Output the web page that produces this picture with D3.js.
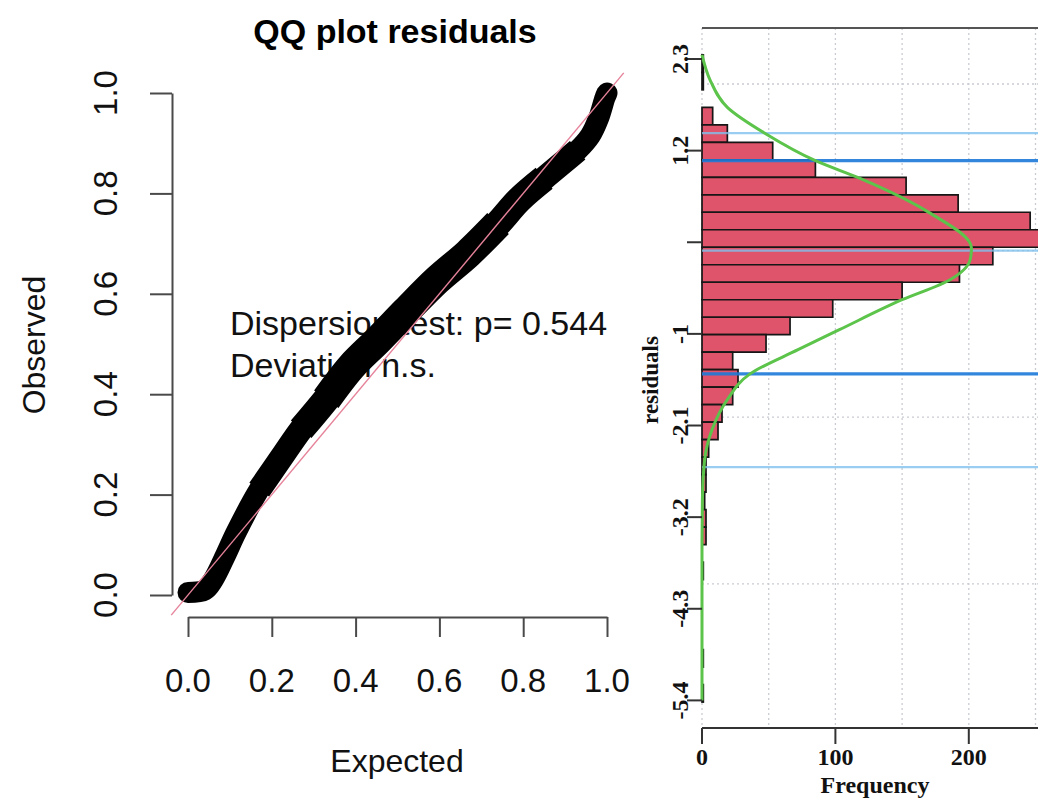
<!DOCTYPE html>
<html>
<head>
<meta charset="utf-8">
<script src="https://cdn.jsdelivr.net/npm/d3@7"></script>
<style>
  html, body { margin: 0; padding: 0; background: #fff; }
  svg { display: block; }
</style>
</head>
<body>
<svg id="chart" width="1038" height="801"></svg>
<script>
// ---------- QQ plot of scaled residuals ----------
const qqExpected = [0.00, 0.04, 0.06, 0.09, 0.115, 0.17, 0.224, 0.27, 0.33, 0.39, 0.454, 0.52, 0.594, 0.668, 0.74, 0.79, 0.85, 0.90, 0.93, 0.96, 0.98, 0.995, 1.00];
const qqObserved = [0.005, 0.01, 0.03, 0.08, 0.125, 0.21, 0.275, 0.33, 0.39, 0.455, 0.508, 0.565, 0.627, 0.68, 0.74, 0.787, 0.83, 0.865, 0.886, 0.915, 0.95, 0.99, 1.00];
const qqTicks = [0, 0.2, 0.4, 0.6, 0.8, 1.0];
const qqTitle = "QQ plot residuals";
const testLines = ["Dispersion test: p= 0.544", "Deviation n.s."];

// ---------- Histogram of residuals ----------
const binEdges = [2.35, 2.14, 1.93, 1.72, 1.51, 1.30, 1.09, 0.88, 0.67, 0.46, 0.25, 0.04,
  -0.17, -0.38, -0.59, -0.80, -1.01, -1.22, -1.43, -1.64, -1.85, -2.06, -2.27, -2.48,
  -2.69, -2.90, -3.11, -3.32, -3.53, -3.74, -3.95, -4.16, -4.37, -4.58, -4.79, -5.00, -5.21, -5.42];
const binCounts = [1, 1, 0, 8, 19, 53, 85, 153, 192, 246, 265, 218, 193, 150, 98, 66, 48, 23, 27, 23,
  15, 12, 5, 3, 3, 2, 3, 3, 0, 1, 0, 0, 0, 0, 1, 0, 1];
const residTicks = [2.3, 1.2, 0.1, -1, -2.1, -3.2, -4.3, -5.4];
const residTickLabels = ["2.3", "1.2", "", "-1", "-2.1", "-3.2", "-4.3", "-5.4"];
const freqTicks = [0, 100, 200];
const freqGrid = [0, 50, 100, 150, 200, 250];
const residGrid = [2, 0, -2, -4];
// reference levels drawn across the histogram
const refLevels = [1.41, 1.08, 0.0, -1.48, -2.60];
const refKinds = ["outer", "inner", "center", "inner", "outer"];
// fitted density curve (in frequency units)
const densResid = [2.35, 2.05, 1.72, 1.41, 1.08, 0.87, 0.45, 0.03, -0.11, -0.35, -0.59, -0.95, -1.19, -1.48, -1.79, -2.15, -2.51, -2.99, -3.5, -5.4];
const densFreq  = [0, 6, 19, 47, 85, 118, 171, 202, 201, 186, 150, 103, 72, 36, 19, 7.5, 2, 0.3, 0, 0];

const SANS = "'Liberation Sans', Arial, Helvetica, sans-serif";
const SERIF = "'Liberation Serif', 'Times New Roman', serif";

const svg = d3.select("#chart");

// ================= Left panel =================
const xQ = d3.scaleLinear().domain([0, 1]).range([188, 607]);
const yQ = d3.scaleLinear().domain([0, 1]).range([595, 93]);
const left = svg.append("g");

left.append("text")
  .attr("x", 395).attr("y", 43)
  .attr("text-anchor", "middle")
  .attr("font-family", SANS).attr("font-weight", "bold").attr("font-size", 34)
  .text(qqTitle);

// axes (line + ticks), labels drawn separately
const axX = left.append("g").attr("transform", "translate(0,617)")
  .call(d3.axisBottom(xQ).tickValues(qqTicks).tickSize(20).tickSizeOuter(0).tickFormat(""));
const axY = left.append("g").attr("transform", "translate(172,0)")
  .call(d3.axisLeft(yQ).tickValues(qqTicks).tickSize(22).tickSizeOuter(0).tickFormat(""));
[axX, axY].forEach(a => {
  a.selectAll("path, line").attr("stroke", "#4a4a4a").attr("stroke-width", 2);
});

left.selectAll("text.xt").data(qqTicks).join("text")
  .attr("class", "xt")
  .attr("x", d => xQ(d)).attr("y", 692)
  .attr("text-anchor", "middle")
  .attr("font-family", SANS).attr("font-size", 33).attr("fill", "#111")
  .text(d => d3.format(".1f")(d));

left.selectAll("text.yt").data(qqTicks).join("text")
  .attr("class", "yt")
  .attr("transform", d => `translate(117,${yQ(d)}) rotate(-90)`)
  .attr("text-anchor", "middle")
  .attr("font-family", SANS).attr("font-size", 33).attr("fill", "#111")
  .text(d => d3.format(".1f")(d));

left.append("text")
  .attr("x", 397).attr("y", 772)
  .attr("text-anchor", "middle")
  .attr("font-family", SANS).attr("font-size", 32).attr("fill", "#111")
  .text("Expected");

left.append("text")
  .attr("transform", `translate(45,345) rotate(-90)`)
  .attr("text-anchor", "middle")
  .attr("font-family", SANS).attr("font-size", 32).attr("fill", "#111")
  .text("Observed");

// test annotations (drawn beneath the points)
left.selectAll("text.ann").data(testLines).join("text")
  .attr("class", "ann")
  .attr("x", 230).attr("y", (d, i) => 335 + i * 42)
  .attr("font-family", SANS).attr("font-size", 34).attr("fill", "#111")
  .text(d => d);

// dense band of residual quantiles; the central stretch of the cloud is wider
const qqPts = qqExpected.map((e, i) => [e, qqObserved[i]]);
const qqLine = d3.line().x(d => xQ(d[0])).y(d => yQ(d[1])).curve(d3.curveCatmullRom);
const bandLayers = [
  { lo: 0.00, hi: 1.00, w: 21, cap: "round" },
  { lo: 0.17, hi: 0.93, w: 24, cap: "butt" },
  { lo: 0.27, hi: 0.85, w: 27, cap: "butt" },
  { lo: 0.33, hi: 0.74, w: 30, cap: "butt" }
];
bandLayers.forEach(l => {
  left.append("path")
    .attr("d", qqLine(qqPts.filter(p => p[0] >= l.lo && p[0] <= l.hi)))
    .attr("fill", "none").attr("stroke", "#000")
    .attr("stroke-width", l.w).attr("stroke-linecap", l.cap).attr("stroke-linejoin", "round");
});

// 1:1 reference line across the plotting region
left.append("line")
  .attr("x1", xQ(-0.04)).attr("y1", yQ(-0.04))
  .attr("x2", xQ(1.04)).attr("y2", yQ(1.04))
  .attr("stroke", "#e6839a").attr("stroke-width", 1.4);

// ================= Right panel =================
const xH = d3.scaleLinear().domain([0, 250]).range([702, 1035.5]);
const yH = d3.scaleLinear().domain([2.3, -5.4]).range([59, 700.4]);
const right = svg.append("g");

// dotted grid
right.selectAll("line.vg").data(freqGrid).join("line")
  .attr("class", "vg")
  .attr("x1", d => xH(d)).attr("x2", d => xH(d))
  .attr("y1", 28).attr("y2", 728)
  .attr("stroke", "#c9ccd2").attr("stroke-width", 1.3).attr("stroke-dasharray", "2,3");
right.selectAll("line.hg").data(residGrid).join("line")
  .attr("class", "hg")
  .attr("x1", xH(0)).attr("x2", 1038)
  .attr("y1", d => yH(d)).attr("y2", d => yH(d))
  .attr("stroke", "#c9ccd2").attr("stroke-width", 1.3).attr("stroke-dasharray", "2,3");

// bars
const bins = binCounts.map((c, i) => ({ c, hi: binEdges[i], lo: binEdges[i + 1] })).filter(b => b.c > 0);
right.selectAll("path.bar").data(bins).join("path")
  .attr("class", "bar")
  .attr("d", b => `M${xH(0)},${yH(b.hi)}H${xH(b.c)}V${yH(b.lo)}H${xH(0)}Z`)
  .attr("fill", "#DF536B").attr("stroke", "#161616").attr("stroke-width", 1.7);

// reference levels
const refStyle = {
  outer:  { color: "#7fc0ee", width: 2.2, opacity: 0.8 },
  center: { color: "#7fc0ee", width: 2.2, opacity: 0.8 },
  inner:  { color: "#1c7ad8", width: 3.2, opacity: 0.9 }
};
right.selectAll("line.ref").data(refLevels).join("line")
  .attr("class", "ref")
  .attr("x1", xH(0)).attr("x2", 1038)
  .attr("y1", d => yH(d)).attr("y2", d => yH(d))
  .attr("stroke", (d, i) => refStyle[refKinds[i]].color)
  .attr("stroke-width", (d, i) => refStyle[refKinds[i]].width)
  .attr("stroke-opacity", (d, i) => refStyle[refKinds[i]].opacity);

// density curve
const densPts = densResid.map((r, i) => [r, densFreq[i]]);
right.append("path")
  .attr("d", d3.line().x(d => xH(d[1])).y(d => yH(d[0])).curve(d3.curveMonotoneY)(densPts))
  .attr("fill", "none").attr("stroke", "#5cc44a").attr("stroke-width", 3);

// top frame line
right.append("line")
  .attr("x1", xH(0)).attr("x2", 1038).attr("y1", 28).attr("y2", 28)
  .attr("stroke", "#555").attr("stroke-width", 2);

// frequency axis
right.append("line")
  .attr("x1", xH(0)).attr("x2", xH(300)).attr("y1", 728).attr("y2", 728)
  .attr("stroke", "#333").attr("stroke-width", 2);
right.selectAll("line.ft").data(freqTicks).join("line")
  .attr("class", "ft")
  .attr("x1", d => xH(d)).attr("x2", d => xH(d)).attr("y1", 728).attr("y2", 744)
  .attr("stroke", "#333").attr("stroke-width", 2);
right.selectAll("text.ftl").data(freqTicks).join("text")
  .attr("class", "ftl")
  .attr("x", d => xH(d)).attr("y", 765)
  .attr("text-anchor", "middle")
  .attr("font-family", SERIF).attr("font-weight", "bold").attr("font-size", 24).attr("fill", "#111")
  .text(d => d);
right.append("text")
  .attr("x", 875).attr("y", 793)
  .attr("text-anchor", "middle")
  .attr("font-family", SERIF).attr("font-weight", "bold").attr("font-size", 24).attr("fill", "#111")
  .text("Frequency");

// residual axis
right.selectAll("line.rt").data(residTicks).join("line")
  .attr("class", "rt")
  .attr("x1", 687).attr("x2", xH(0))
  .attr("y1", d => yH(d)).attr("y2", d => yH(d))
  .attr("stroke", "#333").attr("stroke-width", 2);
right.selectAll("text.rtl").data(residTicks).join("text")
  .attr("class", "rtl")
  .attr("transform", d => `translate(688,${yH(d)}) rotate(-90)`)
  .attr("text-anchor", "middle")
  .attr("font-family", SERIF).attr("font-weight", "bold").attr("font-size", 24).attr("fill", "#111")
  .text((d, i) => residTickLabels[i]);
right.append("text")
  .attr("transform", `translate(658,380) rotate(-90)`)
  .attr("text-anchor", "middle")
  .attr("font-family", SERIF).attr("font-weight", "bold").attr("font-size", 23).attr("fill", "#111")
  .text("residuals");
</script>
</body>
</html>
